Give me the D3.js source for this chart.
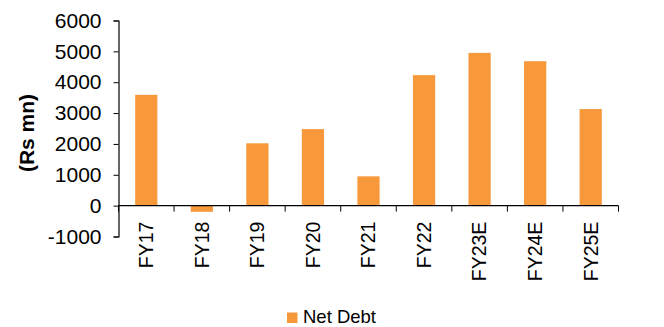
<!DOCTYPE html>
<html><head><meta charset="utf-8">
<script src="https://cdn.jsdelivr.net/npm/d3@7"></script>
<style>body{margin:0;background:#fff}svg{display:block}text{font-family:"Liberation Sans",Arial,sans-serif;fill:#000}</style>
</head><body><svg id="c" width="664" height="327"></svg>
<script>
const categories = ["FY17","FY18","FY19","FY20","FY21","FY22","FY23E","FY24E","FY25E"];
const netDebt = [3590, -200, 2020, 2480, 950, 4230, 4950, 4680, 3130];
const yTicks = [-1000, 0, 1000, 2000, 3000, 4000, 5000, 6000];
const seriesName = "Net Debt";
const yTitle = "(Rs mn)";

const svg = d3.select("#c");
const x = d3.scaleBand().domain(categories).range([118.5, 618.5]).paddingInner(0.6).paddingOuter(0.3);
const y = d3.scaleLinear().domain([-1000, 6000]).range([236.5, 20.5]);
const color = "#F7993A";

// bars
svg.append("g").selectAll("rect").data(categories).join("rect")
  .attr("x", d => x(d))
  .attr("width", x.bandwidth())
  .attr("y", (d,i) => y(Math.max(0, netDebt[i])))
  .attr("height", (d,i) => Math.abs(y(netDebt[i]) - y(0)))
  .attr("fill", color);

// y axis
const ya = svg.append("g").attr("transform", "translate(118.5,0)")
  .call(d3.axisLeft(y).tickValues(yTicks).tickSize(5).tickPadding(12).tickFormat(d => String(d)));
ya.select(".domain").attr("stroke", "#000").attr("stroke-width", 1.2);
ya.selectAll(".tick line").attr("stroke", "#000");
ya.selectAll("text").attr("font-size", 21).attr("font-family", "Liberation Sans, Arial, sans-serif");

// x axis at zero
const boundaries = d3.range(categories.length + 1).map(i => x.range()[0] + i * (x.range()[1] - x.range()[0]) / categories.length);
const xa = svg.append("g").attr("transform", `translate(0,${y(0)})`);
xa.append("line").attr("x1", x.range()[0]).attr("x2", x.range()[1]).attr("stroke", "#000").attr("stroke-width", 1.2);
xa.selectAll("line.t").data(boundaries).join("line").attr("class","t")
  .attr("x1", d => d).attr("x2", d => d).attr("y1", 0).attr("y2", 6).attr("stroke", "#000");
xa.selectAll("text").data(categories).join("text")
  .attr("transform", d => `translate(${x(d) + x.bandwidth()/2},16) rotate(-90)`)
  .attr("text-anchor", "end").attr("dy", "0.35em")
  .attr("font-size", 19.5).text(d => d);

// y title
svg.append("text").attr("transform", "translate(27,133) rotate(-90)")
  .attr("text-anchor", "middle").attr("dy", "0.35em")
  .attr("font-size", 21).attr("font-weight", "bold").text(yTitle);

// legend
svg.append("rect").attr("x", 287).attr("y", 312.5).attr("width", 10.5).attr("height", 10.5).attr("fill", color);
svg.append("text").attr("x", 303).attr("y", 323).attr("font-size", 18.5).text(seriesName);
</script></body></html>
